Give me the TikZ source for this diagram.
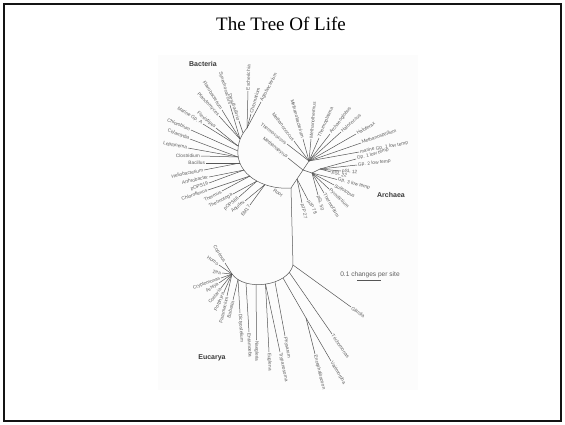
\documentclass[tikz,border=0pt]{standalone}
\usepackage{fontspec}
\setmainfont{Liberation Serif}
\setsansfont{Liberation Sans}
\usepackage{tikz}
\definecolor{cTree}{HTML}{555555}
\definecolor{cLabel}{HTML}{5E5E5E}
\definecolor{cClade}{HTML}{3A3A3A}
\definecolor{cScan}{HTML}{FCFCFC}
\definecolor{cFrame}{HTML}{141414}

\begin{document}
\begin{tikzpicture}[
  x=1pt, y=-1pt,
  twig/.style={draw=cTree, line width=0.5pt},
  tip/.style={inner sep=0.8pt, text=cLabel, font=\sffamily\fontsize{4.8}{5}\selectfont},
  tipR/.style={tip, pos=1, sloped, anchor=west},
  tipL/.style={tipR, anchor=east},
  clade/.style={font=\sffamily\bfseries\fontsize{7}{8}\selectfont, text=cClade},
  capt/.style={font=\sffamily\fontsize{6.6}{8}\selectfont, text=cLabel},
]
\useasboundingbox (0,0) rectangle (565,424);
\draw[cFrame, line width=2.5pt] (4,4) rectangle (561,421);
\fill[cScan] (158,55) rectangle (418,390);
\node[anchor=base, font=\fontsize{19}{22}\selectfont] (title) at (281,30) {The Tree Of Life};

% ---------- trunk ----------
\coordinate (R) at (291,188);
\coordinate (E) at (293,265);
\coordinate (A) at (303,170);
\draw[twig] (R) -- (E);
\draw[twig] (R) -- (A);
\node[tip, rotate=-35] (root) at (278,193) {Root};

% ---------- Bacteria ----------
\draw[twig] (R) .. controls (268,190) and (240,178) .. (238,155) .. controls (237,142) and (242,134) .. (247,128);
\coordinate (bA) at (265,184.5);
\coordinate (bB) at (257,181);
\coordinate (bC) at (250,176);
\coordinate (bD) at (244,170);
\coordinate (bE) at (240,163);
\coordinate (bF) at (238,157);
\coordinate (bG) at (238,151);
\coordinate (bH) at (238,146);
\coordinate (bI) at (240,139);
\coordinate (bJ) at (243,133);
\coordinate (bK) at (247,128);
\draw[twig] (bA) -- (250,205) node[tipL] (bEM) {EM17};
\draw[twig] (bA) -- (245,201) node[tipL] (bAqu) {Aquifex};
\draw[twig] (bB) -- (239,197) node[tipL] (bOPSa) {pOPS66};
\draw[twig] (bB) -- (233,194) node[tipL] (bTga) {Thermotoga};
\draw[twig] (bC) -- (222,191) node[tipL] (bTms) {Thermus};
\draw[twig] (bC) -- (208,190) node[tipL] (bCfx) {Chloroflexus};
\draw[twig] (bD) -- (209,183) node[tipL] (bOPSb) {pOPS19};
\draw[twig] (bD) -- (209,177) node[tipL] (bArt) {Arthrobacter};
\draw[twig] (bE) -- (204,170) node[tipL] (bHel) {Heliobacterium};
\draw[twig] (bE) -- (206,163) node[tipL] (bBac) {Bacillus};
\draw[twig] (bF) -- (201,156) node[tipL] (bClo) {Clostridium};
\draw[twig] (bF) -- (188,148) node[tipL] (bLep) {Leptonema};
\draw[twig] (bF) -- (190,139) node[tipL] (bCla) {Chlamydia};
\draw[twig] (bG) -- (191,130) node[tipL] (bCbm) {Chlorobium};
\draw[twig] (bH) -- (203,124) node[tipL] (bMar) {Marine Gp. A};
\draw[twig] (bH) -- (216,128) node[tipL] (bFlx) {Flexistipes};
\draw[twig] (bI) -- (219,116) node[tipL] (bPla) {Planctomyces};
\draw[twig] (bI) -- (222,110) node[tipL] (bFla) {Flavobacterium};
\draw[twig] (bI) -- (230,105) node[tipL] (bSyn) {Synechococcus};
\draw[twig] (bJ) -- (239,121) node[tipL] (bDes) {Desulfovibrio};
\draw[twig] (bK) -- (248,91) node[tipR] (bEsc) {Escherichia};
\draw[twig] (bK) -- (251,114) node[tipR] (bChr) {Chromatium};
\draw[twig] (bK) -- (261,102) node[tipR] (bAgr) {Agrobacterium};
\node[clade] (bacteria) at (203,64) {Bacteria};

% ---------- Archaea ----------
\coordinate (Y) at (309,161);
\coordinate (C) at (312,173);
\coordinate (G) at (320,169);
\coordinate (P) at (297,179);
\draw[twig] (A) -- (Y);
\draw[twig] (A) -- (C) -- (G);
\draw[twig] (A) -- (288,158) node[tipL] (aMpy) {Methanopyrus};
\draw[twig] (Y) -- (287,144) node[tipL] (aTco) {Thermococcus};
\draw[twig] (Y) -- (294,141) node[tipL] (aMco) {Methanococcus};
\draw[twig] (Y) -- (303,139) node[tipL] (aMba) {Methanobacterium};
\draw[twig] (Y) -- (311,139) node[tipR] (aMth) {Methanothermus};
\draw[twig] (Y) -- (319,138) node[tipR] (aTpl) {Thermoplasma};
\draw[twig] (Y) -- (330,134) node[tipR] (aArg) {Archaeoglobus};
\draw[twig] (Y) -- (341,132) node[tipR] (aHco) {Halococcus};
\draw[twig] (Y) -- (356,134) node[tipR] (aHfx) {Haloferax};
\draw[twig] (Y) -- (361,143) node[tipR] (aMsp) {Methanospirillum};
\draw[twig] (Y) -- (359,152) node[tipR] (aMar) {marine Gp. 1 low temp};
\draw[twig] (G) -- (356,159) node[tipR] (aGa) {Gp. 1 low temp};
\draw[twig] (G) -- (357,165) node[tipR] (aGb) {Gp. 2 low temp};
\draw[twig] (G) -- (341,171) node[tipR] (aSLa) {pSL 12};
\draw[twig] (G) -- (331,172) node[tipR] (aSLb) {pSL 22};
\draw[twig] (C) -- (337,179.5) node[tipR] (aGc) {Gp. 3 low temp};
\draw[twig] (C) -- (334,185) node[tipR] (aSul) {Sulfolobus};
\draw[twig] (C) -- (329,189) node[tipR] (aPyr) {Pyrodictium};
\draw[twig] (C) -- (324,193) node[tipR] (aTfl) {Thermofilum};
\draw[twig] (C) -- (318,195) node[tipR] (aSLc) {pSL 50};
\draw[twig] (P) -- (308,200) node[tipR] (aJPa) {pJP 78};
\draw[twig] (P) -- (302,203) node[tipR] (aJPb) {pJP 27};
\node[clade] (archaea) at (391,195) {Archaea};

% ---------- Eucarya ----------
\draw[twig] (E) .. controls (288,286) and (245,292) .. (232,274);
\coordinate (eA) at (289,272);
\coordinate (eB) at (283,278);
\coordinate (eC) at (275,282);
\coordinate (eD) at (265.5,284);
\coordinate (eE) at (256,284.5);
\coordinate (eF) at (246,283);
\coordinate (eG) at (238,279.5);
\coordinate (eH) at (232,274);
\coordinate (J) at (306,318);
\draw[twig] (E) -- (351,307) node[tipR] (eGia) {Giardia};
\draw[twig] (eA) -- (332,334) node[tipR] (eTri) {Trichomonas};
\draw[twig] (eB) -- (J) -- (331,361) node[tipR] (eVai) {Vairimorpha};
\draw[twig] (J) -- (315,354) node[tipR] (eEnc) {Encephalitozoon};
\draw[twig] (eC) -- (285,336) node[tipR] (ePhy) {Physarum};
\draw[twig] (eD) -- (280,352) node[tipR] (eTry) {Trypanosoma};
\draw[twig] (eD) -- (269,352) node[tipR] (eEug) {Euglena};
\draw[twig] (eE) -- (256.5,340) node[tipR] (eNae) {Naegleria};
\draw[twig] (eF) -- (249,332) node[tipR] (eEnt) {Entamoeba};
\draw[twig] (eG) -- (240,313) node[tipR] (eDic) {Dictyostelium};
\draw[twig] (eG) -- (233,300) node[tipL] (eBab) {Babesia};
\draw[twig] (eH) -- (227,296) node[tipL] (ePar) {Paramecium};
\draw[twig] (eH) -- (224,292) node[tipL] (ePor) {Porphyra};
\draw[twig] (eH) -- (221,288) node[tipL] (eCos) {Costaria};
\draw[twig] (eH) -- (219,283) node[tipL] (eAch) {Achlya};
\draw[twig] (eH) -- (221,278) node[tipL] (eCry) {Cryptomonas};
\draw[twig] (eH) -- (222,273) node[tipL] (eZea) {Zea};
\draw[twig] (eH) -- (219,265) node[tipL] (eHom) {Homo};
\draw[twig] (eH) -- (225,263) node[tipL] (eCop) {Coprinus};
\node[clade] (eucarya) at (212,358) {Eucarya};

% scale bar
\node[capt] (scale) at (370,275) {0.1 changes per site};
\draw[twig] (357,280) -- (381,280);

\end{tikzpicture}
\end{document}
